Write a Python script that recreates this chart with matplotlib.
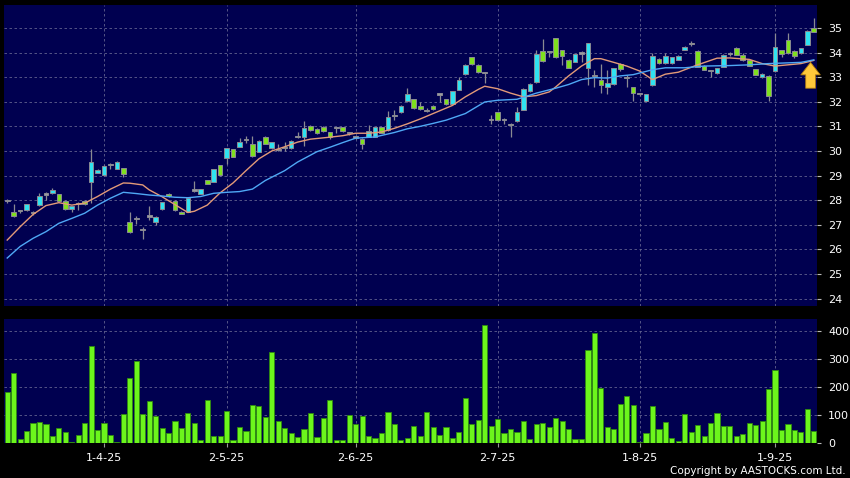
import matplotlib
matplotlib.use('Agg')
import matplotlib.pyplot as plt
import numpy as np

# daily candles, 11 Mar 2025 .. 9 Sep 2025 (126 sessions)
opens = [27.97, 27.52, 27.55, 27.59, 27.48, 27.79, 28.23, 28.28, 28.24, 27.97,
         27.64, 27.85, 27.98, 28.75, 29.12, 29.02, 29.44, 29.27, 29.30, 27.10,
         27.24, 26.77, 27.33, 27.13, 27.63, 28.27, 27.98, 27.53, 27.53, 28.39,
         28.27, 28.81, 28.75, 29.42, 29.70, 30.07, 30.18, 30.43, 30.27, 29.97,
         30.58, 30.12, 30.04, 30.12, 30.12, 30.55, 30.57, 31.00, 30.91, 30.99,
         30.76, 30.93, 30.96, 30.72, 30.54, 30.49, 30.58, 30.58, 30.96, 30.85,
         31.42, 31.58, 32.02, 32.10, 31.83, 31.63, 31.83, 32.29, 32.10, 31.91,
         32.48, 33.12, 33.80, 33.50, 33.15, 31.25, 31.57, 31.25, 31.05, 31.20,
         31.68, 32.43, 32.79, 34.08, 34.01, 34.57, 34.09, 33.70, 33.62, 33.96,
         33.38, 33.05, 32.88, 32.59, 32.72, 33.53, 32.97, 32.58, 32.30, 32.05,
         32.68, 33.74, 33.57, 33.57, 33.70, 34.11, 34.34, 34.08, 33.46, 33.25,
         33.16, 33.43, 33.95, 34.20, 33.91, 33.68, 33.32, 33.00, 33.05, 33.23,
         34.11, 34.51, 34.08, 33.97, 34.31, 35.01]
highs = [28.05, 27.85, 27.62, 27.85, 27.55, 28.28, 28.32, 28.48, 28.27, 27.99,
         27.78, 27.92, 28.01, 30.08, 29.25, 29.45, 29.50, 29.60, 29.32, 27.51,
         27.35, 26.91, 27.76, 27.36, 27.93, 28.30, 28.00, 27.55, 28.10, 28.78,
         28.46, 28.83, 29.28, 29.44, 30.13, 30.10, 30.52, 30.60, 30.60, 30.44,
         30.60, 30.37, 30.30, 30.38, 30.44, 30.76, 31.22, 31.05, 30.93, 31.01,
         30.78, 30.95, 30.98, 30.77, 30.58, 30.51, 31.05, 30.98, 30.98, 31.63,
         31.65, 31.85, 32.57, 32.12, 31.98, 31.75, 31.86, 32.30, 32.12, 32.45,
         33.00, 33.52, 33.82, 33.52, 33.20, 31.45, 31.60, 31.35, 31.15, 31.80,
         32.55, 32.75, 34.10, 34.55, 34.07, 34.60, 34.10, 33.72, 33.95, 34.05,
         34.40, 33.30, 33.52, 33.30, 33.38, 33.58, 33.10, 32.60, 32.35, 32.33,
         33.97, 33.76, 33.97, 33.82, 33.88, 34.26, 34.45, 34.10, 33.48, 33.30,
         33.38, 33.95, 34.03, 34.22, 33.97, 33.70, 33.34, 33.16, 33.08, 34.80,
         34.12, 34.78, 34.10, 34.20, 34.91, 35.39]
lows = [27.90, 27.33, 27.47, 27.58, 27.40, 27.77, 28.02, 28.27, 27.97, 27.60,
        27.50, 27.60, 27.80, 27.89, 29.10, 29.00, 29.28, 29.25, 28.93, 26.65,
        27.05, 26.43, 27.20, 27.00, 27.60, 28.12, 27.57, 27.42, 27.50, 28.34,
        28.25, 28.65, 28.73, 29.00, 29.47, 29.75, 30.15, 30.34, 29.76, 29.95,
        30.28, 30.10, 29.98, 29.98, 30.10, 30.52, 30.20, 30.80, 30.70, 30.78,
        30.50, 30.72, 30.78, 30.66, 30.48, 30.10, 30.55, 30.56, 30.71, 30.83,
        31.25, 31.55, 32.00, 31.72, 31.68, 31.58, 31.65, 32.00, 31.85, 31.90,
        32.46, 33.10, 33.50, 33.18, 32.75, 31.10, 31.20, 31.08, 30.58, 31.18,
        31.65, 32.40, 32.77, 33.60, 33.83, 33.78, 33.50, 33.36, 33.60, 33.60,
        32.70, 32.60, 32.35, 32.30, 32.70, 33.25, 32.60, 32.05, 32.25, 32.03,
        32.63, 33.55, 33.55, 33.55, 33.68, 34.09, 34.25, 33.40, 33.28, 33.00,
        33.14, 33.40, 33.85, 33.89, 33.64, 33.44, 33.07, 32.98, 32.04, 33.20,
        33.80, 33.95, 33.77, 33.95, 34.29, 34.83]
closes = [27.97, 27.36, 27.55, 27.83, 27.48, 28.18, 28.23, 28.41, 27.98, 27.64,
          27.76, 27.85, 27.83, 29.54, 29.22, 29.40, 29.44, 29.57, 29.07, 26.72,
          27.24, 26.77, 27.33, 27.33, 27.91, 28.16, 27.59, 27.43, 28.09, 28.39,
          28.44, 28.67, 29.26, 29.01, 30.11, 29.77, 30.35, 30.43, 29.78, 30.42,
          30.30, 30.35, 30.04, 30.12, 30.42, 30.55, 30.92, 30.85, 30.72, 30.80,
          30.57, 30.93, 30.80, 30.72, 30.54, 30.30, 30.83, 30.96, 30.73, 31.37,
          31.42, 31.82, 32.30, 31.74, 31.70, 31.63, 31.70, 32.29, 31.91, 32.43,
          32.89, 33.50, 33.52, 33.20, 33.15, 31.25, 31.26, 31.25, 31.05, 31.57,
          32.50, 32.71, 33.93, 33.65, 34.01, 33.80, 33.84, 33.38, 33.92, 33.96,
          34.37, 33.05, 32.70, 32.76, 33.36, 33.34, 32.97, 32.35, 32.30, 32.31,
          33.86, 33.57, 33.86, 33.80, 33.86, 34.24, 34.34, 33.43, 33.30, 33.25,
          33.36, 33.88, 33.95, 33.91, 33.70, 33.46, 33.09, 33.14, 32.24, 34.22,
          33.95, 33.97, 33.86, 34.18, 34.89, 34.85]
volumes = [183, 251, 14, 44, 71, 75, 67, 27, 54, 39,
           4, 28, 71, 345, 47, 71, 30, 6, 105, 231,
           293, 105, 149, 97, 54, 35, 80, 53, 109, 71,
           11, 154, 25, 25, 114, 13, 58, 44, 135, 134,
           95, 324, 79, 53, 38, 24, 50, 109, 22, 90,
           154, 12, 12, 99, 69, 97, 25, 19, 37, 111,
           69, 11, 19, 62, 27, 110, 57, 30, 59, 19,
           40, 160, 70, 83, 419, 62, 86, 35, 51, 40,
           79, 14, 70, 72, 59, 91, 78, 51, 15, 15,
           332, 393, 195, 58, 52, 141, 167, 135, 6, 38,
           131, 49, 77, 18, 7, 104, 40, 66, 26, 71,
           108, 63, 63, 26, 32, 73, 64, 78, 192, 259,
           47, 69, 47, 39, 122, 44]

# moving averages (bar index, value)
ma_short_idx = [0, 2, 4, 6, 8, 10, 12, 14, 16, 18, 19, 21, 22, 24, 26, 28, 29, 31,
                33, 35, 37, 39, 41, 43, 45, 47, 50, 52, 54, 56, 58, 60, 62, 64, 66,
                69, 71, 73, 74, 76, 78, 80, 82, 84, 85, 87, 89, 91, 92, 94, 96, 98,
                100, 102, 104, 107, 110, 112, 115, 117, 119, 121, 123, 125]
ma_short_val = [26.38, 26.92, 27.42, 27.78, 27.90, 27.80, 27.88, 28.15, 28.45, 28.70,
                28.69, 28.62, 28.42, 28.14, 27.82, 27.50, 27.55, 27.80, 28.30, 28.70,
                29.20, 29.68, 30.00, 30.17, 30.36, 30.48, 30.56, 30.62, 30.72, 30.72,
                30.77, 30.92, 31.10, 31.30, 31.52, 31.85, 32.20, 32.50, 32.63, 32.53,
                32.35, 32.20, 32.25, 32.40, 32.60, 33.05, 33.45, 33.75, 33.75, 33.60,
                33.45, 33.25, 32.90, 33.12, 33.20, 33.50, 33.77, 33.78, 33.72, 33.55,
                33.45, 33.50, 33.55, 33.68]
ma_long_idx = [0, 2, 4, 6, 8, 10, 12, 14, 16, 18, 20, 22, 24, 26, 28, 30, 32, 34, 36,
               38, 40, 43, 45, 48, 50, 52, 54, 57, 60, 62, 64, 66, 68, 71, 74, 76,
               79, 82, 85, 87, 89, 91, 93, 95, 97, 100, 102, 105, 108, 112, 115, 118,
               120, 123, 125]
ma_long_val = [25.65, 26.12, 26.45, 26.72, 27.06, 27.26, 27.47, 27.80, 28.08, 28.32,
               28.27, 28.21, 28.17, 28.12, 28.10, 28.15, 28.28, 28.32, 28.35, 28.45,
               28.80, 29.20, 29.55, 29.97, 30.15, 30.34, 30.52, 30.57, 30.75, 30.90,
               31.00, 31.12, 31.25, 31.52, 31.99, 32.06, 32.10, 32.35, 32.55, 32.70,
               32.90, 32.98, 32.96, 33.05, 33.10, 33.30, 33.38, 33.38, 33.45, 33.47,
               33.50, 33.55, 33.57, 33.60, 33.70]

tick_idx = [15, 34, 54, 76, 98, 119]
tick_labels = ['1-4-25', '2-5-25', '2-6-25', '2-7-25', '1-8-25', '1-9-25']

BG = '#000050'
GRID = '#62628f'
CYAN = '#30e2f0'
GREEN = '#7fe01e'
GRAY = '#9a9aa2'
EDGE = '#8a8a92'

fig = plt.figure(figsize=(8.5, 4.78), dpi=100, facecolor='black')
ax = fig.add_axes([0.0047, 0.3598, 0.9565, 0.6297], facecolor=BG)
axv = fig.add_axes([0.0047, 0.0726, 0.9565, 0.2594], facecolor=BG, sharex=ax)

x = np.arange(len(closes))
o = np.array(opens)
c = np.array(closes)
colors = [CYAN if cc > oo else GREEN if cc < oo else GRAY for oo, cc in zip(o, c)]
bottom = np.minimum(o, c)
height = np.maximum(np.abs(c - o), 0.05)

ax.vlines(x, lows, highs, color=EDGE, lw=0.9, zorder=2)
ax.bar(x, height, bottom=bottom, width=0.72, color=colors,
       edgecolor=EDGE, linewidth=0.7, zorder=3)

ax.plot(ma_short_idx, ma_short_val, color='#e39a78', lw=1.0, zorder=4)
ax.plot(ma_long_idx, ma_long_val, color='#4fa8f5', lw=1.0, zorder=4)

# yellow arrow marker at the right end
ax.annotate('', xy=(124.5, 33.6), xytext=(124.5, 32.55),
            arrowprops=dict(arrowstyle='simple,head_width=1.4,head_length=0.9,tail_width=0.7',
                            fc='#ffc83a', ec='#b07a10', lw=0.6, mutation_scale=10,
                            shrinkA=0, shrinkB=0),
            zorder=6)

axv.bar(x, volumes, width=0.8, color='#6cf51c', edgecolor='#2f8a10',
        linewidth=0.6, zorder=3)

ax.set_xlim(-0.5, 125.5)
ax.set_ylim(23.7, 35.93)
axv.set_ylim(0, 440)

ax.set_yticks(range(24, 36))
axv.set_yticks([0, 100, 200, 300, 400])
axv.set_xticks(tick_idx)
axv.set_xticklabels(tick_labels)

for a in (ax, axv):
    a.yaxis.tick_right()
    a.grid(True, color=GRID, linestyle=(0, (3, 3)), linewidth=0.6, zorder=0)
    a.set_axisbelow(True)
    for s in a.spines.values():
        s.set_visible(False)
    a.tick_params(axis='y', colors='#bbbbbb', labelcolor='white', length=3,
                  width=0.8, pad=5, labelsize=8)
    a.tick_params(axis='x', colors='#999999', labelcolor='white', length=3,
                  width=0.8, pad=4, labelsize=8)
ax.tick_params(axis='x', labelbottom=False, length=0)

fig.text(0.995, 1 - 471.5 / 478, 'Copyright by AASTOCKS.com Ltd.', ha='right',
         va='center', color='white', fontsize=7.5)

fig.savefig('out.png', dpi=100, facecolor='black')
